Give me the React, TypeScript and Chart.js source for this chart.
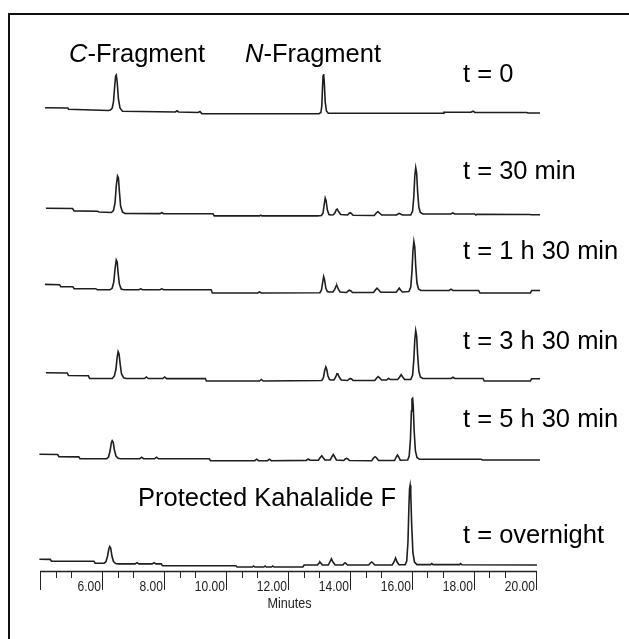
import React, { useEffect, useRef } from 'react';
import { Chart, registerables } from 'chart.js';

Chart.register(...registerables);

// ---------- data (retention time in minutes, detector signal in arbitrary units) ----------
const TRACE_LABELS = ['t = 0', 't = 30 min', 't = 1 h 30 min', 't = 3 h 30 min', 't = 5 h 30 min', 't = overnight'];
// vertical offsets used to stack the chromatograms
const TRACE_OFFSETS = [457, 355, 278, 190, 110, 4];

const TRACE_T0: [number, number][] = [
  [4.16, 6.3], [4.90, 6.0], [4.92, 4.7], [6.2, 3.5], [6.27, 4], [6.33, 6], [6.37, 12], [6.41, 28], [6.44, 38],
  [6.46, 39], [6.49, 32], [6.53, 15], [6.58, 6], [6.66, 2.8], [8.37, 2], [8.42, 3.2], [8.47, 2], [9.1, 1.5],
  [9.16, 2.5], [9.22, 0.4], [13.0, 0.3], [13.06, 1.5], [13.09, 8], [13.11, 24], [13.13, 38], [13.15, 40],
  [13.17, 32], [13.2, 12], [13.24, 3], [13.3, 0.8], [17.0, 0.7], [17.03, 1.7], [17.9, 1.7], [17.97, 2.8],
  [18.03, 1.5], [19.7, 1.5], [19.74, 1.0], [20.13, 1.0],
];

const TRACE_T30: [number, number][] = [
  [4.19, 7.8], [5.05, 7.5], [5.1, 5.1], [5.86, 4.8], [5.9, 4], [6.3, 3.5], [6.37, 5.5], [6.42, 13], [6.46, 30],
  [6.5, 40], [6.53, 38], [6.56, 25], [6.6, 10], [6.66, 4], [6.74, 2.5], [7.87, 2.4], [7.93, 3.3], [7.99, 2.2],
  [9.58, 2.2], [9.62, 0.1], [11.08, 0.1], [11.12, 0.9], [11.16, 0.1], [12.95, 0.1], [13.08, 0.5], [13.13, 3],
  [13.17, 12], [13.2, 17.8], [13.23, 15], [13.27, 6], [13.32, 1.5], [13.38, 1], [13.46, 1.2], [13.52, 3.5],
  [13.56, 6.5], [13.59, 7], [13.63, 4.5], [13.7, 1.5], [13.92, 1], [13.97, 2.5], [14.01, 3.2], [14.05, 2.4],
  [14.1, 0.8], [14.78, 0.5], [14.85, 3], [14.9, 4.4], [14.95, 3], [15.02, 1], [15.5, 1], [15.55, 2], [15.59, 2.6],
  [15.64, 1.8], [15.7, 1], [15.96, 1], [16.02, 5], [16.06, 20], [16.09, 40], [16.12, 48.4], [16.15, 43],
  [16.18, 25], [16.22, 9], [16.27, 3.5], [16.35, 2], [17.25, 2], [17.32, 3], [17.38, 2], [18.02, 2], [18.06, 1],
  [18.1, 1.6], [19.8, 1.5], [19.84, 1.3], [20.13, 1.3],
];

const TRACE_T90: [number, number][] = [
  [4.16, 8.6], [4.63, 8.3], [4.67, 6.3], [5.06, 6.2], [5.1, 4.4], [5.8, 4.3], [5.85, 3.2], [6.26, 3.2], [6.33, 5],
  [6.38, 11], [6.42, 24], [6.46, 33], [6.49, 31], [6.52, 20], [6.56, 9], [6.62, 4], [6.7, 3.2], [7.19, 3.2],
  [7.25, 4.2], [7.31, 3.2], [7.87, 3.2], [7.93, 4.2], [7.99, 3.2], [9.52, 3.2], [9.56, 0], [11.02, 0], [11.08, 1],
  [11.14, 0], [13.03, 0.3], [13.08, 3], [13.12, 11], [13.15, 16.3], [13.18, 13], [13.22, 5], [13.27, 1.5],
  [13.33, 1], [13.45, 1], [13.51, 3.8], [13.55, 7], [13.58, 7.2], [13.62, 4], [13.68, 1], [13.89, 0.5],
  [13.94, 2], [13.98, 2.8], [14.03, 2], [14.08, 0.5], [14.76, 0.5], [14.82, 3], [14.87, 4.8], [14.92, 3.2],
  [14.99, 0.8], [15.49, 0.8], [15.55, 3.2], [15.59, 4.8], [15.63, 3], [15.69, 1], [15.9, 1.5], [15.96, 6],
  [16.0, 22], [16.03, 42], [16.06, 51.5], [16.09, 46], [16.12, 27], [16.16, 10], [16.21, 4], [16.29, 2.5],
  [17.2, 2.5], [17.26, 3.8], [17.32, 2.5], [18.15, 2.5], [18.19, 0], [19.82, 0], [19.86, 2.5], [20.13, 2.5],
];

const TRACE_T210: [number, number][] = [
  [4.19, 8.2], [4.88, 8], [4.92, 5.5], [5.56, 5.3], [5.6, 2.5], [6.33, 2.5], [6.4, 5], [6.45, 12], [6.49, 24],
  [6.52, 29.3], [6.55, 27], [6.59, 16], [6.63, 7], [6.7, 3.2], [6.78, 2.5], [7.37, 2.5], [7.43, 4], [7.49, 2.5],
  [7.96, 2.5], [8.02, 4], [8.08, 2.4], [9.33, 2.4], [9.37, 0], [11.08, 0], [11.14, 1.5], [11.2, 0], [13.09, 0.5],
  [13.14, 3], [13.18, 10], [13.22, 14], [13.25, 11.5], [13.29, 5], [13.34, 1.5], [13.4, 1], [13.48, 1],
  [13.54, 4], [13.58, 7.2], [13.61, 7], [13.65, 4], [13.72, 1], [13.92, 0.5], [13.97, 1.8], [14.01, 2.5],
  [14.06, 1.8], [14.1, 0.5], [14.8, 0.5], [14.86, 3], [14.91, 4.4], [14.96, 3], [15.02, 1], [15.18, 1],
  [15.24, 2.5], [15.3, 1.5], [15.54, 1.5], [15.6, 4], [15.65, 6.3], [15.7, 4], [15.76, 1.5], [15.96, 1.5],
  [16.02, 6], [16.06, 22], [16.09, 41], [16.12, 50.3], [16.15, 45], [16.18, 27], [16.22, 10], [16.27, 4],
  [16.35, 2.5], [17.26, 2.5], [17.32, 3.7], [17.38, 2.5], [18.29, 2.5], [18.33, 0], [19.82, 0], [19.86, 2.3],
  [20.13, 2.3],
];

const TRACE_T330: [number, number][] = [
  [3.98, 6.7], [4.57, 6.5], [4.61, 4.3], [5.25, 4.1], [5.29, 2.3], [6.15, 2.3], [6.21, 4], [6.26, 10], [6.3, 18],
  [6.33, 20.3], [6.36, 19], [6.4, 11], [6.45, 5], [6.52, 2.8], [6.6, 2.3], [7.22, 2.3], [7.28, 3.8], [7.34, 2.3],
  [7.7, 2.3], [7.76, 3.8], [7.82, 2.2], [9.46, 2.2], [9.5, 0.3], [10.93, 0.3], [10.99, 1.8], [11.05, 0.3],
  [11.34, 0.3], [11.4, 1.8], [11.46, 0.3], [12.59, 0.6], [12.65, 2], [12.71, 0.8], [12.98, 0.8], [13.04, 3.5],
  [13.09, 5.3], [13.13, 3.5], [13.19, 1], [13.36, 1], [13.42, 4.5], [13.46, 6.5], [13.5, 4.5], [13.56, 1],
  [13.8, 0.5], [13.85, 2], [13.89, 2.7], [13.93, 2], [13.98, 0.5], [14.7, 0.3], [14.76, 3], [14.81, 4.3],
  [14.86, 3], [14.92, 0.5], [15.44, 0.5], [15.49, 4], [15.53, 6], [15.57, 4], [15.62, 0.8], [15.86, 1],
  [15.91, 5], [15.95, 22], [15.98, 50], [16.0, 62], [16.02, 62.7], [16.04, 55], [16.07, 30], [16.11, 10],
  [16.16, 3.5], [16.24, 1.7], [18.23, 1.7], [18.27, 1], [20.13, 1],
];

const TRACE_OVERNIGHT: [number, number][] = [
  [3.98, 7.7], [4.33, 7.6], [4.37, 5.8], [5.74, 5.7], [5.78, 3.9], [6.07, 3.8], [6.13, 5.5], [6.18, 11],
  [6.22, 18], [6.25, 20.4], [6.28, 19], [6.32, 11], [6.37, 5.5], [6.44, 3.4], [6.52, 3.1], [7.07, 3.1],
  [7.13, 4.3], [7.19, 3.1], [7.62, 3.1], [7.68, 4.3], [7.74, 3.1], [7.91, 3.1], [7.95, 1.2], [10.32, 1.2],
  [10.36, 0], [10.85, 0], [10.89, 1], [10.93, 0], [11.22, 0], [11.26, 1], [11.3, 0], [11.47, 0], [11.51, 1],
  [11.55, 0], [12.48, 0], [12.52, 2], [12.95, 2], [13.0, 4], [13.03, 5], [13.06, 4], [13.11, 2], [13.3, 2],
  [13.35, 5], [13.4, 8.1], [13.45, 5], [13.52, 2], [13.77, 2], [13.81, 3.5], [13.84, 4.3], [13.87, 3.5],
  [13.92, 2], [14.6, 2], [14.66, 4], [14.7, 5], [14.74, 4], [14.8, 2], [15.36, 2], [15.42, 5], [15.47, 9],
  [15.52, 5], [15.58, 2.3], [15.78, 2.3], [15.83, 6], [15.87, 25], [15.9, 60], [15.92, 78], [15.94, 81.7],
  [15.96, 74], [15.99, 42], [16.03, 14], [16.08, 5], [16.16, 2.4], [16.6, 2.4], [16.64, 3.4], [16.68, 2.4],
  [17.53, 2.4], [17.57, 3.4], [17.61, 2.2], [20.03, 2],
];

const TRACES = [TRACE_T0, TRACE_T30, TRACE_T90, TRACE_T210, TRACE_T330, TRACE_OVERNIGHT];

// x axis (minutes)
const AXIS_START = 4.0;
const AXIS_END = 20.03;
const MAJOR_TICKS = [4, 6, 8, 10, 12, 14, 16, 18, 20];
const MAJOR_LABELS = ['', '6.00', '8.00', '10.00', '12.00', '14.00', '16.00', '18.00', '20.00'];
const MINOR_TICKS = [4.5, 5, 6.5, 7, 8.5, 9, 10.5, 11, 12.5, 13, 14.5, 15, 16.5, 17, 18.5, 19];
const X_TITLE = 'Minutes';

const FONT = '"Liberation Sans", Arial, Helvetica, sans-serif';

const overlayPlugin = {
  id: 'overlay',
  afterDraw(chart: any) {
    const ctx = chart.ctx as CanvasRenderingContext2D;
    const xs = chart.scales.x;
    const px = (v: number) => xs.getPixelForValue(v);
    const axisY = chart.chartArea.bottom;
    ctx.save();

    // frame
    ctx.fillStyle = '#111';
    ctx.fillRect(8, 13, 629 - 8, 2);
    ctx.fillRect(8, 13, 2, 639 - 13);

    // axis line
    ctx.strokeStyle = '#222';
    ctx.lineWidth = 1.5;
    ctx.beginPath();
    ctx.moveTo(px(AXIS_START), axisY + 0.5);
    ctx.lineTo(px(AXIS_END), axisY + 0.5);
    ctx.stroke();
    ctx.lineWidth = 1;
    ctx.beginPath();
    MAJOR_TICKS.forEach((v) => {
      const x = Math.round(px(v)) + 0.5;
      ctx.moveTo(x, axisY);
      ctx.lineTo(x, axisY + 19);
    });
    MINOR_TICKS.forEach((v) => {
      const x = Math.round(px(v)) + 0.5;
      ctx.moveTo(x, axisY);
      ctx.lineTo(x, axisY + 7);
    });
    ctx.stroke();

    // tick labels (condensed)
    ctx.fillStyle = '#222';
    ctx.font = `14px ${FONT}`;
    ctx.textAlign = 'right';
    ctx.textBaseline = 'alphabetic';
    MAJOR_TICKS.forEach((v, i) => {
      const label = MAJOR_LABELS[i];
      if (!label) return;
      ctx.save();
      ctx.translate(px(v) - 1, axisY + 20);
      ctx.scale(0.86, 1);
      ctx.fillText(label, 0, 0);
      ctx.restore();
    });
    ctx.save();
    ctx.textAlign = 'center';
    ctx.font = `14px ${FONT}`;
    ctx.translate(px(12.05), axisY + 37);
    ctx.scale(0.9, 1);
    ctx.fillText(X_TITLE, 0, 0);
    ctx.restore();

    // annotations
    ctx.fillStyle = '#000';
    ctx.textAlign = 'left';
    const big = `25.5px ${FONT}`;
    const bigItalic = `italic 25.5px ${FONT}`;
    const drawPart = (parts: [string, boolean][], x: number, y: number) => {
      let cx = x;
      parts.forEach(([txt, it]) => {
        ctx.font = it ? bigItalic : big;
        ctx.fillText(txt, cx, y);
        cx += ctx.measureText(txt).width;
      });
    };
    drawPart([['C', true], ['-Fragment', false]], 69, 62);
    drawPart([['N', true], ['-Fragment', false]], 245, 62);
    ctx.font = big;
    ctx.fillText('Protected Kahalalide F', 138, 506);
    const labelBaselines = [82, 179, 259, 349, 427, 543];
    TRACE_LABELS.forEach((lab, i) => {
      ctx.fillText(lab, 463, labelBaselines[i]);
    });
    ctx.restore();
  },
};

export default function App() {
  const ref = useRef<HTMLCanvasElement | null>(null);
  useEffect(() => {
    if (!ref.current) return;
    const chart = new Chart(ref.current, {
      type: 'line',
      data: {
        datasets: TRACES.map((tr, i) => ({
          label: TRACE_LABELS[i],
          data: tr.map(([t, s]) => ({ x: t, y: s + TRACE_OFFSETS[i] })),
          borderColor: '#1e1e1e',
          borderWidth: 1.6,
          pointRadius: 0,
          tension: 0,
          fill: false,
          clip: false as any,
        })),
      },
      options: {
        animation: false,
        responsive: false,
        events: [],
        layout: { padding: { left: 33.8, right: 86.8, top: 0, bottom: 68 } },
        scales: {
          x: { type: 'linear', min: 3.8, max: 20.2, display: false },
          y: { type: 'linear', min: 0, max: 571, display: false },
        },
        plugins: { legend: { display: false }, tooltip: { enabled: false } },
      },
      plugins: [overlayPlugin],
    });
    return () => chart.destroy();
  }, []);
  return (
    <div style={{ position: 'fixed', left: 0, top: 0, width: 629, height: 639, background: '#fff' }}>
      <canvas ref={ref} width={629} height={639} style={{ display: 'block' }} />
    </div>
  );
}
